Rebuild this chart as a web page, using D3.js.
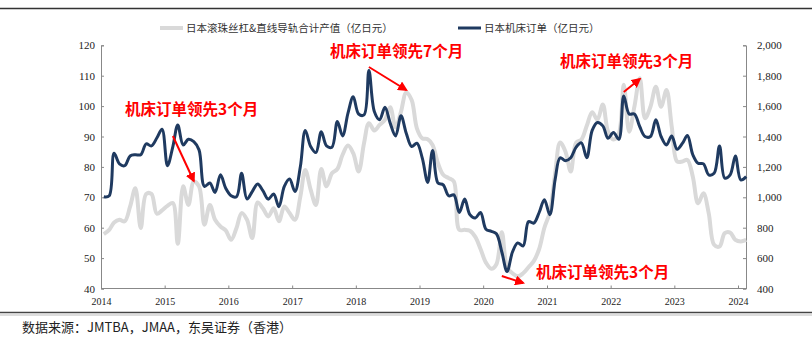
<!DOCTYPE html>
<html><head><meta charset="utf-8">
<script src="https://cdn.jsdelivr.net/npm/d3@7/dist/d3.min.js"></script>
<style>
html,body{margin:0;padding:0;background:#fff;}
svg{display:block;}
</style></head>
<body><svg id="c" width="812" height="337"></svg>
<script>
// ---- data ----
const startYear = 2014, startMonth = 0; // Jan 2014, monthly
const seriesNames = ["日本滚珠丝杠&直线导轨合计产值（亿日元）", "日本机床订单（亿日元）"];
// Ball screw & linear guide production value (left axis, 亿日元)
const screwGuide = [
57.9,59.3,61.7,62.6,62.1,67,73,59.9,71.1,71.1,64.6,65.7,
67.2,68.1,54.7,73.6,67.5,75.2,73.6,61,67.5,62.6,60.4,59.1,
56,59.9,64.8,62.6,56.6,68.3,66.4,63.7,66.4,62.1,67,64.8,
62.6,70.3,79,72.5,67.5,79.3,73.6,77.9,79.3,84,87,84.5,
78.5,87.8,94.4,92,93.8,95.5,99.6,93,98.2,104.5,102,92.7,
89.4,89.1,87.2,81.2,77.4,76.3,75.2,59.3,59.3,59,57,53,
48.5,46.5,48,58.5,47,45,44,45,47,49,53,60,
65,78,88,85,78.5,88,89,93.5,98,95.5,100.5,91.6,
89,91,107,91.6,99.8,109.2,96,99.8,106.4,99.8,105.3,93.3,
81.8,81.8,82.3,76.8,68,71.3,64.8,54.4,53.8,58.2,58.4,56,
55.5,56];
// Japan machine tool orders (right axis, 亿日元)
const toolOrders = [
1004,1010,1290,1220,1208,1272,1280,1280,1352,1338,1390,1448,
1208,1334,1476,1344,1382,1366,1312,1072,1094,1032,1148,1060,
1010,1004,1158,988,1038,1088,1044,988,1022,938,1072,1120,
1038,1202,1440,1334,1294,1432,1338,1330,1498,1404,1554,1662,
1548,1542,1834,1564,1510,1592,1488,1404,1536,1422,1334,1356,
1258,1098,1308,1094,1082,1010,1016,900,988,886,864,900,
790,776,760,640,512,640,700,680,840,830,900,984,
886,1120,1260,1240,1260,1330,1358,1260,1440,1492,1470,1388,
1426,1382,1666,1548,1548,1464,1400,1400,1510,1400,1344,1404,
1316,1356,1406,1280,1224,1220,1148,1158,1338,1126,1148,1272,
1114,1136];
const leftTicks = [40,50,60,70,80,90,100,110,120];
const rightTicks = [400,600,800,1000,1200,1400,1600,1800,2000];
const yearTicks = [2014,2015,2016,2017,2018,2019,2020,2021,2022,2023,2024];
const annotations = [
  {text:"机床订单领先3个月", x0:"2015-09", from:[2015,3], to:[2015,5], ay0:[91], note:"a1"},
];
const sourceText = "数据来源：JMTBA，JMAA，东吴证券（香港）";

// ---- layout ----
const svg = d3.select("#c");
const X0 = 101, Xr = 738, AXR = 746, YT = 45.3, YB = 288.5;
const x = d3.scaleTime().domain([new Date(2014,0,1), new Date(2024,0,1)]).range([X0, Xr]);
const yL = d3.scaleLinear().domain([40,120]).range([YB, YT]);
const yR = d3.scaleLinear().domain([400,2000]).range([YB, YT]);
const dateOf = i => new Date(startYear, startMonth + i, 17);

// top and bottom rules
svg.append("line").attr("x1",0).attr("x2",812).attr("y1",8.5).attr("y2",8.5).attr("stroke","#333").attr("stroke-width",1.5);
svg.append("line").attr("x1",0).attr("x2",812).attr("y1",312.5).attr("y2",312.5).attr("stroke","#444").attr("stroke-width",1.5);
svg.append("line").attr("x1",0).attr("x2",812).attr("y1",315).attr("y2",315).attr("stroke","#bbb").attr("stroke-width",1);

// axes
const axColor = "#888";
const gL = svg.append("g").attr("transform",`translate(${X0},0)`)
  .call(d3.axisRight(yL).tickValues(leftTicks).tickSize(3).tickFormat(d3.format("d")));
gL.selectAll("text").attr("x",-6).attr("text-anchor","end");
const gR = svg.append("g").attr("transform",`translate(${AXR},0)`)
  .call(d3.axisLeft(yR).tickValues(rightTicks).tickSize(3).tickFormat(d3.format(",")));
gR.selectAll("text").attr("x",11).attr("text-anchor","start");
const gX = svg.append("g").attr("transform",`translate(0,${YB})`)
  .call(d3.axisTop(x).tickValues(yearTicks.map(y=>new Date(y,0,1))).tickSize(3).tickFormat(d3.timeFormat("%Y")));
gX.selectAll("text").attr("y",13).attr("dy","0.32em");
[gL,gR,gX].forEach(g=>{
  g.select(".domain").attr("stroke",axColor).attr("stroke-width",1);
  g.selectAll(".tick line").attr("stroke",axColor);
  g.selectAll("text").attr("fill","#222").attr("font-family","'Liberation Serif','Times New Roman',serif");
});
gL.selectAll("text").attr("font-size",11);
gR.selectAll("text").attr("font-size",11);
gX.selectAll("text").attr("font-size",10);
gX.select(".domain").attr("d",`M${X0},0H${AXR}`);

// lines
const curve = d3.curveCatmullRom.alpha(0.5);
svg.append("path").datum(screwGuide)
  .attr("d", d3.line().x((d,i)=>x(dateOf(i))).y(d=>yL(d)).curve(curve))
  .attr("fill","none").attr("stroke","#d9d9d9").attr("stroke-width",4).attr("stroke-linejoin","round");
svg.append("path").datum(toolOrders)
  .attr("d", d3.line().x((d,i)=>x(dateOf(i))).y(d=>yR(d)).curve(curve))
  .attr("fill","none").attr("stroke","#1f3a60").attr("stroke-width",3).attr("stroke-linejoin","round");

// legend
const cjk = "'Noto Sans CJK SC','Noto Sans',sans-serif";
const leg = [{x:160, c:"#d9d9d9", w:4, t:seriesNames[0]},{x:458, c:"#1f3a60", w:3, t:seriesNames[1]}];
leg.forEach(l=>{
  svg.append("line").attr("x1",l.x).attr("x2",l.x+23).attr("y1",28).attr("y2",28).attr("stroke",l.c).attr("stroke-width",l.w);
  svg.append("text").attr("x",l.x+26).attr("y",28).attr("dy","0.35em").attr("font-size",10.5)
    .attr("font-family",cjk).attr("fill","#333").text(l.t);
});

// annotations (arrows anchored to data points)
const defs = svg.append("defs");
defs.append("marker").attr("id","ah").attr("viewBox","0 0 10 10").attr("refX",8).attr("refY",5)
  .attr("markerWidth",5).attr("markerHeight",5).attr("orient","auto")
  .append("path").attr("d","M0,0L10,5L0,10z").attr("fill","#ff0000");
const notes = [
  {t:"机床订单领先3个月", tx:125, ty:110, a:[dateOf(13.9), 136, dateOf(17.1), 181]},
  {t:"机床订单领先7个月", tx:330, ty:52,  a:[dateOf(50.9), 67, dateOf(57.2), 90]},
  {t:"机床订单领先3个月", tx:560, ty:62,  a:[dateOf(98.1), 92, dateOf(101.1), 79]},
  {t:"机床订单领先3个月", tx:536, ty:273, a:[dateOf(75.5), 276, dateOf(79.2), 283]}
];
notes.forEach(n=>{
  svg.append("text").attr("x",n.tx).attr("y",n.ty).attr("dy","0.35em").attr("font-size",15.5)
    .attr("font-weight","bold").attr("font-family",cjk).attr("fill","#ff0000").text(n.t);
  svg.append("line").attr("x1",x(n.a[0])).attr("y1",n.a[1]).attr("x2",x(n.a[2])).attr("y2",n.a[3])
    .attr("stroke","#ff0000").attr("stroke-width",2).attr("marker-end","url(#ah)");
});

// source
svg.append("text").attr("x",22).attr("y",327).attr("dy","0.35em").attr("font-size",13)
  .attr("font-family",cjk).attr("fill","#222").text(sourceText);
</script></body></html>
